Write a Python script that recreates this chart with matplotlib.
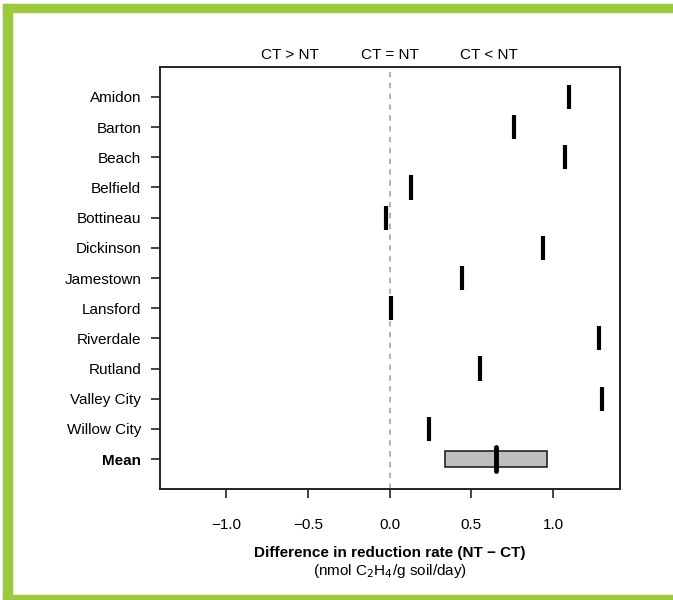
import matplotlib
matplotlib.use('Agg')
import matplotlib.pyplot as plt
from matplotlib.patches import Rectangle

plt.rcParams['font.family'] = ['Liberation Sans', 'DejaVu Sans']

sites = ['Amidon', 'Barton', 'Beach', 'Belfield', 'Bottineau', 'Dickinson',
         'Jamestown', 'Lansford', 'Riverdale', 'Rutland', 'Valley City',
         'Willow City']
diffs = [1.10, 0.76, 1.07, 0.13, -0.02, 0.94, 0.44, 0.01, 1.28, 0.55, 1.30, 0.24]
mean_val = 0.65
ci_low, ci_high = 0.34, 0.96
xticks = [-1.0, -0.5, 0.0, 0.5, 1.0]
top_labels = ['CT > NT', 'CT = NT', 'CT < NT']
top_pos = [-0.61, 0.0, 0.61]

green = '#9cca3c'
fs = 11

fig = plt.figure(figsize=(6.73, 6.0), dpi=100)
# green frame
fig.patches.append(Rectangle((0.0045, 0.98), 0.9955, 0.0135, transform=fig.transFigure,
                             color=green, zorder=0))
fig.patches.append(Rectangle((0.0045, 0.0), 0.0135, 0.9935, transform=fig.transFigure,
                             color=green, zorder=0))
fig.patches.append(Rectangle((0.0045, 0.0), 0.9955, 0.0085, transform=fig.transFigure,
                             color=green, zorder=0))

ax = fig.add_axes([160/673, 1 - 489.3/600, (620-160)/673, (489.3-66.7)/600])

labels = sites + ['Mean']
ypos = list(range(1, len(labels) + 1))

ax.axvline(0, color='#aaaaaa', linestyle=(0, (3, 3)), linewidth=1.3, zorder=1)

for y, d in zip(ypos, diffs):
    ax.plot([d, d], [y - 0.4, y + 0.4], color='black', linewidth=3,
            solid_capstyle='butt', zorder=3)

ym = ypos[-1]
ax.add_patch(Rectangle((ci_low, ym - 0.26), ci_high - ci_low, 0.52,
                       facecolor='#bebebe', edgecolor='#222222', linewidth=1.2, zorder=2))
ax.plot([mean_val, mean_val], [ym - 0.4, ym + 0.4], color='black', linewidth=3.5,
        solid_capstyle='round', zorder=3)

ax.set_xlim(-1.405, 1.409)
ax.set_ylim(len(labels) + 1, 0)
ax.set_yticks(ypos)
ax.set_yticklabels(labels, fontsize=fs)
ax.get_yticklabels()[-1].set_fontweight('bold')
ax.set_xticks(xticks)
ax.set_xticklabels(['\u22121.0', '\u22120.5', '0.0', '0.5', '1.0'], fontsize=fs)
ax.tick_params(axis='both', length=6.5, width=1.2, color='#222222')
ax.tick_params(axis='x', pad=14)
ax.tick_params(axis='y', pad=7)
for s in ax.spines.values():
    s.set_linewidth(1.4)
    s.set_color('#222222')

for lab, p in zip(top_labels, top_pos):
    ax.text(p, -0.15, lab, ha='center', va='bottom', fontsize=fs)

fig.text(390/673, 1 - 553/600, 'Difference in reduction rate (NT \u2212 CT)',
         ha='center', va='center', fontsize=fs, fontweight='bold')
fig.text(390/673, 1 - 571/600, '(nmol C$_2$H$_4$/g soil/day)',
         ha='center', va='center', fontsize=fs)

fig.savefig('out.png', dpi=100, facecolor='white')
